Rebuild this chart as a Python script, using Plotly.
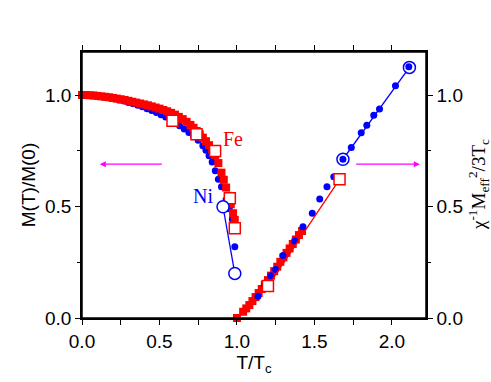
import plotly.graph_objects as go

# Fe, filled squares, below Tc
fe_x_low = [0.0, 0.025, 0.05, 0.075, 0.1, 0.125, 0.15, 0.175, 0.2, 0.225, 0.25, 0.275, 0.3, 0.325,
            0.35, 0.375, 0.4, 0.425, 0.45, 0.475, 0.5, 0.525, 0.55, 0.575, 0.6, 0.625, 0.65, 0.675,
            0.7, 0.72, 0.74, 0.76, 0.78, 0.8, 0.82, 0.84, 0.86, 0.88, 0.9, 0.915, 0.93, 0.945,
            0.96, 0.975, 0.986]
fe_y_low = [1.0, 1.0, 0.999, 0.998, 0.996, 0.994, 0.992, 0.99, 0.987, 0.984, 0.981, 0.978, 0.974, 0.97,
            0.966, 0.962, 0.958, 0.954, 0.949, 0.944, 0.939, 0.933, 0.927, 0.92, 0.912, 0.902, 0.892, 0.88,
            0.866, 0.853, 0.839, 0.824, 0.809, 0.793, 0.775, 0.755, 0.73, 0.695, 0.652, 0.62, 0.585, 0.548,
            0.51, 0.47, 0.44]

# Fe, filled squares, above Tc
fe_x_high = [1.0, 1.04, 1.06, 1.08, 1.1, 1.12, 1.14, 1.16, 1.18, 1.2, 1.22, 1.24, 1.26, 1.28, 1.3,
             1.32, 1.34, 1.36, 1.38, 1.4, 1.42]
fe_y_high = [0.0, 0.028, 0.043, 0.058, 0.076, 0.094, 0.112, 0.13, 0.15, 0.17, 0.19, 0.21, 0.23, 0.252,
             0.272, 0.292, 0.312, 0.332, 0.352, 0.372, 0.39]

# Ni, filled circles, below Tc
ni_x_low = [0.0, 0.03, 0.06, 0.09, 0.12, 0.15, 0.18, 0.21, 0.24, 0.27, 0.3, 0.33, 0.36, 0.39, 0.42,
            0.45, 0.48, 0.51, 0.54, 0.57, 0.6, 0.63, 0.66, 0.69, 0.72, 0.75, 0.78, 0.8, 0.82, 0.84,
            0.86, 0.88, 0.9, 0.93, 0.95, 0.97, 0.986]
ni_y_low = [0.998, 0.998, 0.997, 0.995, 0.993, 0.99, 0.987, 0.983, 0.978, 0.973, 0.967, 0.961, 0.954, 0.947, 0.939,
            0.931, 0.922, 0.912, 0.901, 0.889, 0.876, 0.862, 0.848, 0.832, 0.815, 0.797, 0.772, 0.752, 0.728, 0.7,
            0.66, 0.622, 0.589, 0.53, 0.49, 0.443, 0.32]

# Ni, filled circles, above Tc
ni_x_high = [1.136, 1.178, 1.219, 1.25, 1.297, 1.372, 1.426, 1.486, 1.534, 1.581, 1.625]
ni_y_high = [0.097, 0.148, 0.189, 0.218, 0.28, 0.345, 0.409, 0.47, 0.534, 0.589, 0.634]

# Ni, filled circles on the fitted line
ni_x_fit = [1.684, 1.738, 1.802, 1.838, 1.883, 1.92, 2.023, 2.109]
ni_y_fit = [0.712, 0.765, 0.831, 0.865, 0.909, 0.937, 1.042, 1.127]

# open markers
fe_open_x_low = [0.584, 0.739, 0.859, 0.954, 0.986]
fe_open_y_low = [0.885, 0.824, 0.749, 0.537, 0.402]
fe_open_x_high = [1.2, 1.662]
fe_open_y_high = [0.143, 0.622]
ni_open_x_low = [0.91, 0.986]
ni_open_y_low = [0.499, 0.2]
ni_open_x_high = [1.684, 2.113]
ni_open_y_high = [0.712, 1.124]

RED = "#FF0000"
BLUE = "#0000FF"
MAGENTA = "#FF00FF"
SANS = "Liberation Sans, Arial, sans-serif"
SERIF = "Liberation Serif, Times New Roman, serif"

fig = go.Figure()

# filled data
fig.add_trace(go.Scatter(x=ni_x_low, y=ni_y_low, mode="markers", cliponaxis=False,
                         marker=dict(symbol="circle", size=7, color=BLUE)))
fig.add_trace(go.Scatter(x=fe_x_low, y=fe_y_low, mode="markers", cliponaxis=False,
                         marker=dict(symbol="square", size=8, color=RED)))
fig.add_trace(go.Scatter(x=fe_x_high, y=fe_y_high, mode="markers", yaxis="y2", cliponaxis=False,
                         marker=dict(symbol="square", size=8, color=RED)))
fig.add_trace(go.Scatter(x=ni_x_high, y=ni_y_high, mode="markers", yaxis="y2", cliponaxis=False,
                         marker=dict(symbol="circle", size=7, color=BLUE)))

# theory (open markers)
fig.add_trace(go.Scatter(x=fe_open_x_low, y=fe_open_y_low, mode="markers",
                         marker=dict(symbol="square", size=11, color="white",
                                     line=dict(color=RED, width=1.5))))
fig.add_trace(go.Scatter(x=fe_open_x_high, y=fe_open_y_high, mode="lines+markers", yaxis="y2",
                         line=dict(color=RED, width=1.3),
                         marker=dict(symbol="square", size=11, color="white",
                                     line=dict(color=RED, width=1.5))))
fig.add_trace(go.Scatter(x=ni_open_x_low, y=ni_open_y_low, mode="lines+markers",
                         line=dict(color=BLUE, width=1.3),
                         marker=dict(symbol="circle", size=12, color="white",
                                     line=dict(color=BLUE, width=1.5))))
fig.add_trace(go.Scatter(x=ni_open_x_high, y=ni_open_y_high, mode="lines+markers", yaxis="y2",
                         line=dict(color=BLUE, width=1.3), cliponaxis=False,
                         marker=dict(symbol="circle", size=12, color="white",
                                     line=dict(color=BLUE, width=1.5))))
fig.add_trace(go.Scatter(x=ni_x_fit, y=ni_y_fit, mode="markers", yaxis="y2", cliponaxis=False,
                         marker=dict(symbol="circle", size=7, color=BLUE)))

axis_common = dict(showline=True, linecolor="black", linewidth=1.5, ticks="outside",
                   ticklen=5, tickwidth=1.2, tickcolor="black", showgrid=False, zeroline=False,
                   automargin=False,
                   tickfont=dict(family=SANS, size=19, color="black"))

fig.update_layout(
    width=491, height=382,
    margin=dict(l=82, r=65, t=52, b=64),
    paper_bgcolor="white", plot_bgcolor="white",
    showlegend=False,
    xaxis=dict(range=[0, 2.22], dtick=0.5, tickformat=".1f", mirror="allticks",
               minor=dict(dtick=0.25, ticks="outside", ticklen=3, tickcolor="black"),
               title=dict(text="T/T<sub>c</sub>", font=dict(family=SANS, size=19, color="black"),
                          standoff=2),
               **axis_common),
    yaxis=dict(range=[0, 1.193], dtick=0.5, tickformat=".1f",
               minor=dict(dtick=0.25, ticks="outside", ticklen=3, tickcolor="black"),
               title=dict(text="M(T)/M(0)", font=dict(family=SANS, size=19, color="black"),
                          standoff=4),
               **axis_common),
    yaxis2=dict(range=[0, 1.193], dtick=0.5, tickformat=".1f", overlaying="y", side="right",
                minor=dict(dtick=0.25, ticks="outside", ticklen=3, tickcolor="black"),
                **axis_common),
)

# frame around the plot area (top edge)
fig.add_shape(type="rect", xref="paper", yref="paper", x0=0, x1=1, y0=0, y1=1,
              line=dict(color="black", width=1.5), fillcolor="rgba(0,0,0,0)", layer="above")

# right axis title
fig.add_annotation(xref="paper", yref="paper", x=1, y=0.5, xanchor="center", yanchor="middle",
                   xshift=52, textangle=-90, showarrow=False,
                   text="χ<sup>-1</sup>M<sub>eff</sub><sup>2</sup>/3T<sub>c</sub>",
                   font=dict(family=SERIF, size=19, color="black"))

# labels
fig.add_annotation(x=0.975, y=0.805, text="Fe", showarrow=False,
                   font=dict(family=SERIF, size=20, color=RED))
fig.add_annotation(x=0.78, y=0.545, text="Ni", showarrow=False,
                   font=dict(family=SERIF, size=20, color=BLUE))

# arrows pointing to the axes
fig.add_annotation(x=0.115, y=0.69, ax=0.525, ay=0.69, xref="x", yref="y", axref="x", ayref="y",
                   text="", showarrow=True, arrowhead=2, arrowsize=1, arrowwidth=1.2,
                   arrowcolor=MAGENTA)
fig.add_annotation(x=2.18, y=0.69, ax=1.76, ay=0.69, xref="x", yref="y", axref="x", ayref="y",
                   text="", showarrow=True, arrowhead=2, arrowsize=1, arrowwidth=1.2,
                   arrowcolor=MAGENTA)

# drop the default page margin so the figure sits at the window origin
fig.write_html("out.html", config={"displayModeBar": False},
               post_script="document.body.style.margin='0';")
